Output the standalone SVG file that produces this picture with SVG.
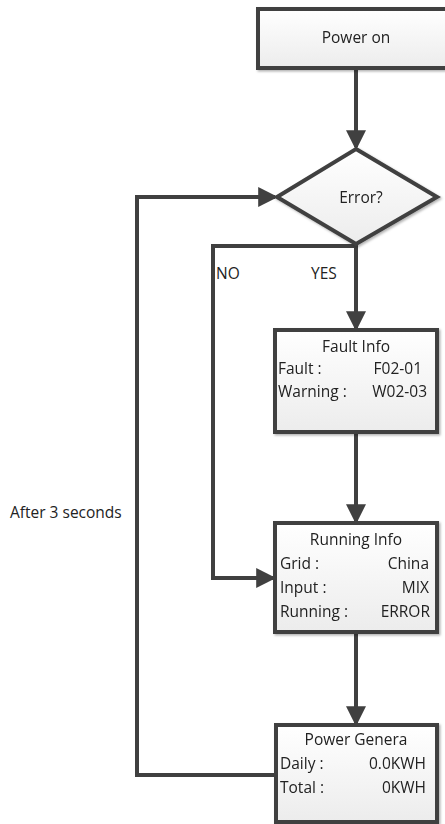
<svg xmlns="http://www.w3.org/2000/svg" width="445" height="824" viewBox="0 0 445 824">
<style>
text{font-family:"Open Sans","Noto Sans",sans-serif;font-size:15.5px;fill:#222}
.c{text-anchor:middle}
.r{text-anchor:end}
.box{fill:url(#g);stroke:#404040;stroke-width:4}
.ln{fill:none;stroke:#404040;stroke-width:4}
</style>
<defs>
<linearGradient id="g" x1="0" y1="0" x2="0" y2="1">
<stop offset="0" stop-color="#ffffff"/>
<stop offset="1" stop-color="#ececec"/>
</linearGradient>
<filter id="sh" x="-10%" y="-10%" width="130%" height="130%">
<feDropShadow dx="1.5" dy="1.5" stdDeviation="1.2" flood-color="#000" flood-opacity="0.3"/>
</filter>
<marker id="ah" markerWidth="5" markerHeight="5" refX="4.2" refY="2.5" orient="auto" markerUnits="strokeWidth">
<path d="M0,0 L5,2.5 L0,5 Z" fill="#404040"/>
</marker>
</defs>
<g id="connectors">
<path class="ln" d="M356,68 V147" marker-end="url(#ah)"/>
<path class="ln" d="M356,244 V328" marker-end="url(#ah)"/>
<path class="ln" d="M356,246 H213 V578 H273" marker-end="url(#ah)"/>
<path class="ln" d="M356,432 V521" marker-end="url(#ah)"/>
<path class="ln" d="M356,632 V723" marker-end="url(#ah)"/>
<path class="ln" d="M276,775 H137 V197 H275" marker-end="url(#ah)"/>
</g>
<g id="power-on" filter="url(#sh)">
<rect class="box" x="258" y="9" width="200" height="59"/>
<text class="c" x="356" y="43">Power on</text>
</g>
<g id="error" filter="url(#sh)">
<path class="box" d="M356,149 L437,197 L356,244 L277,197 Z"/>
<text class="c" x="361" y="203">Error?</text>
</g>
<g id="labels">
<text x="216" y="279">NO</text>
<text x="311" y="279">YES</text>
<text x="10" y="518">After 3 seconds</text>
</g>
<g id="fault-info" filter="url(#sh)">
<rect class="box" x="275" y="330" width="162" height="102"/>
<text class="c" x="356" y="352">Fault Info</text>
<text x="278" y="374">Fault :</text>
<text class="r" x="422" y="374">F02-01</text>
<text x="278" y="397">Warning :</text>
<text class="r" x="427" y="397">W02-03</text>
</g>
<g id="running-info" filter="url(#sh)">
<rect class="box" x="275" y="523" width="162" height="109"/>
<text class="c" x="356" y="545">Running Info</text>
<text x="280" y="569">Grid :</text>
<text class="r" x="429" y="569">China</text>
<text x="280" y="593">Input :</text>
<text class="r" x="429" y="593">MIX</text>
<text x="280" y="617">Running :</text>
<text class="r" x="430" y="617">ERROR</text>
</g>
<g id="power-genera" filter="url(#sh)">
<rect class="box" x="276" y="725" width="161" height="97"/>
<text class="c" x="356" y="745">Power Genera</text>
<text x="280" y="769">Daily :</text>
<text class="r" x="426" y="769">0.0KWH</text>
<text x="280" y="793">Total :</text>
<text class="r" x="426" y="793">0KWH</text>
</g>
</svg>
